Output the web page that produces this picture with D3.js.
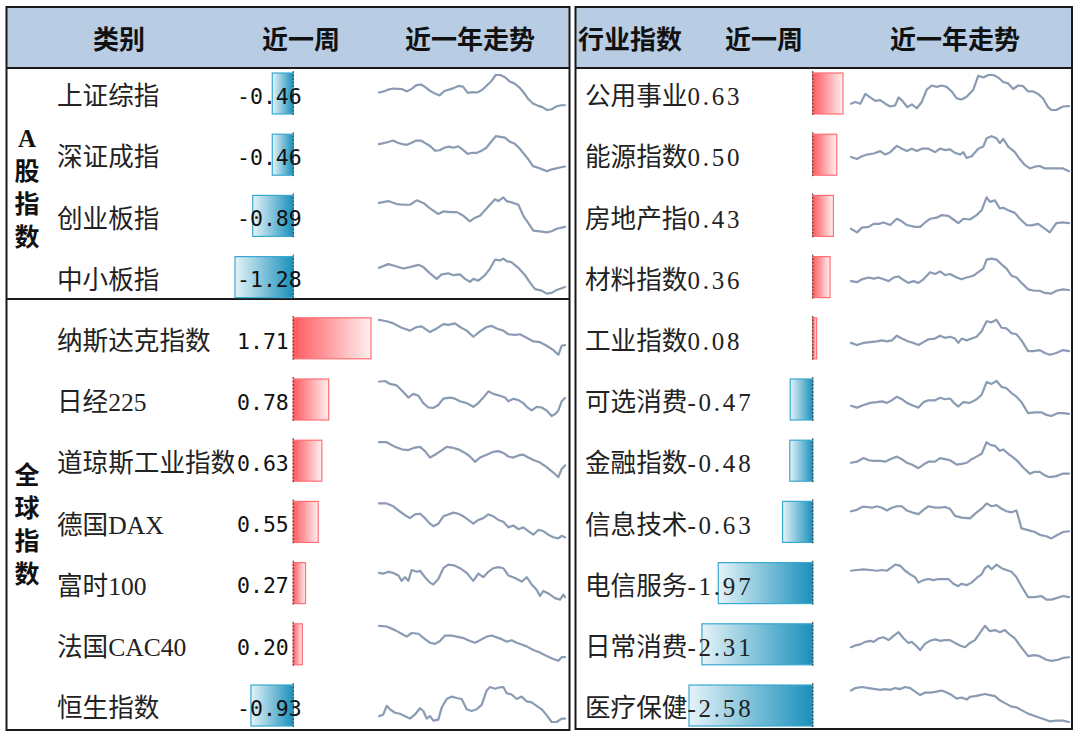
<!DOCTYPE html>
<html><head><meta charset="utf-8">
<script src="https://cdn.jsdelivr.net/npm/d3@7"></script>
<style>html,body{margin:0;padding:0;background:#fff;} svg{display:block}</style>
</head><body><svg id="c" width="1080" height="737"></svg>
<script>
// ---------- data ----------
const headersLeft = ["类别", "近一周", "近一年走势"];
const headersRight = ["行业指数", "近一周", "近一年走势"];
const groupNames = ["A股指数", "全球指数"];
const groupSizes = [4, 7];
const leftNames = ["上证综指", "深证成指", "创业板指", "中小板指", "纳斯达克指数", "日经225", "道琼斯工业指数", "德国DAX", "富时100", "法国CAC40", "恒生指数"];
const leftWeek = [-0.46, -0.46, -0.89, -1.28, 1.71, 0.78, 0.63, 0.55, 0.27, 0.20, -0.93];
const rightNames = ["公用事业", "能源指数", "房地产指", "材料指数", "工业指数", "可选消费", "金融指数", "信息技术", "电信服务", "日常消费", "医疗保健"];
const rightWeek = [0.63, 0.50, 0.43, 0.36, 0.08, -0.47, -0.48, -0.63, -1.97, -2.31, -2.58];

// one-year trend series: [time index, level]
const leftTrend = [
  [[0,50],[14,53],[28,58],[42,61],[56,60],[70,59],[84,53],[98,60],[112,70],[126,72],[140,64],[154,54],[168,47],[182,42],[196,54],[210,58],[224,62],[238,68],[252,66],[266,49],[280,51],[294,50],[308,56],[322,68],[336,80],[350,98],[364,98],[378,92],[392,80],[406,75],[420,65],[434,50],[448,32],[462,20],[476,14],[490,10],[504,2],[518,4],[532,12],[546,15],[558,15]],
  [[0,82],[14,85],[28,88],[42,92],[56,86],[70,82],[84,80],[98,86],[112,92],[126,92],[140,84],[154,76],[168,64],[182,65],[196,72],[210,75],[224,72],[238,76],[252,66],[266,55],[280,58],[294,58],[308,64],[322,72],[336,88],[350,104],[364,102],[378,100],[392,89],[406,84],[420,72],[434,56],[448,40],[462,21],[476,17],[490,12],[504,7],[518,12],[532,15],[546,18],[558,20]],
  [[0,85],[28,90],[53,82],[73,80],[93,80],[113,92],[133,85],[153,70],[178,55],[193,62],[213,60],[233,60],[253,50],[273,35],[288,45],[303,50],[328,75],[348,95],[358,90],[373,100],[383,90],[403,85],[418,80],[433,50],[448,30],[463,10],[483,8],[503,5],[518,8],[533,15],[558,20]],
  [[0,80],[28,90],[48,85],[73,78],[93,82],[118,88],[133,82],[153,65],[173,50],[188,62],[208,65],[223,60],[243,62],[258,50],[273,42],[283,50],[298,45],[318,60],[333,78],[348,102],[363,100],[373,105],[383,98],[398,95],[418,80],[438,60],[453,40],[468,22],[488,18],[503,10],[518,12],[533,20],[558,28]],
  [[0,102],[23,98],[43,92],[68,80],[93,72],[113,82],[128,84],[153,68],[173,78],[193,90],[208,88],[228,92],[243,82],[263,72],[283,55],[303,70],[323,82],[338,85],[353,78],[373,72],[388,62],[408,60],[423,62],[443,52],[463,42],[483,40],[503,30],[523,18],[538,5],[548,30],[558,32]],
  [[0,108],[18,110],[33,102],[53,98],[73,80],[88,65],[103,75],[118,70],[133,50],[148,38],[163,37],[178,45],[193,62],[213,65],[228,62],[243,55],[263,50],[283,40],[298,50],[313,65],[328,82],[343,75],[363,70],[378,65],[388,55],[403,62],[418,58],[433,50],[443,40],[458,30],[473,40],[488,38],[503,30],[518,15],[528,20],[538,30],[548,55],[558,64]],
  [[0,105],[23,105],[48,92],[68,85],[88,83],[108,90],[123,92],[138,80],[153,62],[168,70],[188,82],[203,92],[218,90],[238,85],[258,75],[273,65],[288,50],[303,62],[323,70],[343,78],[358,80],[373,75],[388,65],[403,62],[418,68],[433,70],[448,62],[463,55],[483,48],[503,35],[523,20],[538,7],[548,30],[558,40]],
  [[0,105],[23,105],[43,97],[63,83],[78,73],[93,65],[108,75],[123,77],[138,65],[153,50],[163,43],[178,50],[193,70],[208,75],[223,80],[238,77],[253,70],[268,60],[283,50],[298,60],[313,65],[328,75],[343,70],[358,60],[373,55],[388,40],[403,45],[418,35],[433,40],[448,30],[463,20],[478,33],[493,30],[508,20],[523,13],[538,10],[548,17],[558,13]],
  [[0,82],[13,80],[28,85],[43,82],[58,75],[68,60],[78,70],[88,60],[98,90],[113,85],[123,88],[138,70],[153,55],[163,50],[178,65],[193,95],[208,105],[228,102],[243,95],[263,82],[283,60],[298,80],[313,70],[328,85],[343,95],[358,98],[373,95],[388,75],[408,68],[428,58],[443,70],[458,50],[473,35],[483,18],[493,32],[508,25],[528,12],[543,8],[553,22],[558,15]],
  [[0,107],[23,105],[48,95],[68,85],[83,77],[98,87],[118,85],[138,70],[153,60],[168,57],[183,65],[198,80],[218,80],[233,77],[253,73],[273,65],[288,60],[303,67],[323,77],[338,80],[353,75],[368,70],[383,63],[398,67],[413,60],[428,55],[443,50],[463,40],[483,33],[503,23],[523,15],[538,10],[548,20],[558,20]],
  [[0,25],[13,30],[23,55],[33,45],[48,35],[63,32],[78,25],[93,18],[108,30],[123,48],[133,40],[143,18],[153,25],[163,12],[178,15],[188,50],[203,75],[218,82],[233,78],[248,75],[263,45],[278,40],[293,45],[308,58],[323,100],[333,110],[348,105],[358,108],[373,110],[383,92],[398,88],[413,75],[428,82],[443,68],[458,65],[473,55],[488,45],[503,28],[518,8],[533,8],[548,18],[558,18]]
];
const rightTrend = [
  [[0,25],[13,30],[28,25],[43,53],[58,43],[73,33],[88,35],[103,25],[118,17],[133,20],[143,43],[153,35],[170,15],[183,23],[198,12],[213,30],[228,65],[243,77],[258,73],[273,77],[288,73],[303,60],[318,40],[333,37],[348,45],[368,65],[383,105],[398,100],[413,107],[428,107],[443,100],[458,87],[473,83],[488,67],[503,77],[518,75],[533,60],[548,60],[563,53],[578,40],[593,15],[603,7],[618,7],[638,17],[656,18]],
  [[0,48],[18,42],[33,50],[48,55],[68,58],[88,65],[103,55],[118,62],[138,80],[153,72],[168,65],[183,72],[198,65],[213,72],[233,72],[253,62],[268,72],[283,68],[298,70],[313,60],[328,55],[338,62],[348,45],[363,50],[383,72],[398,78],[408,102],[423,108],[438,102],[448,88],[458,100],[473,78],[493,62],[508,42],[523,25],[538,15],[553,20],[568,22],[583,15],[598,15],[618,15],[638,15],[656,7]],
  [[0,20],[18,10],[33,23],[53,25],[68,33],[83,33],[98,37],[118,30],[138,47],[153,40],[168,30],[193,25],[208,25],[223,37],[238,47],[258,50],[273,57],[293,55],[308,45],[323,35],[338,47],[358,45],[378,57],[393,70],[408,105],[418,93],[433,97],[448,75],[458,77],[473,70],[493,63],[508,47],[528,30],[543,29],[563,33],[583,20],[598,10],[618,35],[638,37],[656,35]],
  [[0,45],[18,42],[33,50],[53,55],[68,52],[83,55],[98,50],[113,45],[128,55],[143,58],[158,48],[173,40],[188,45],[203,40],[218,50],[238,70],[253,65],[268,72],[283,62],[298,65],[318,55],[333,50],[348,55],[368,60],[383,70],[398,80],[408,105],[423,108],[438,105],[453,92],[468,80],[483,60],[498,55],[513,40],[533,22],[553,18],[568,18],[583,12],[603,10],[618,18],[638,22],[656,20]],
  [[0,38],[18,32],[38,38],[58,40],[78,42],[93,45],[108,42],[123,45],[138,58],[153,50],[173,42],[188,38],[203,32],[218,40],[233,48],[253,50],[268,58],[283,52],[298,55],[313,50],[323,38],[333,50],[348,45],[363,50],[378,55],[393,70],[408,98],[423,95],[438,102],[453,80],[468,78],[483,65],[498,62],[513,45],[533,15],[548,15],[568,18],[583,10],[598,5],[618,10],[638,18],[656,15]],
  [[0,35],[18,30],[38,37],[58,43],[78,45],[93,47],[108,43],[123,50],[138,60],[153,53],[168,43],[188,35],[203,30],[218,45],[233,50],[253,50],[268,57],[283,53],[298,55],[313,40],[323,33],[338,45],[358,43],[378,53],[393,65],[408,100],[423,95],[438,103],[453,87],[468,83],[483,70],[498,60],[513,45],[533,15],[553,17],[573,17],[588,10],[603,7],[623,15],[638,15],[656,13]],
  [[0,45],[18,48],[38,58],[53,52],[68,50],[88,50],[103,48],[118,55],[138,62],[153,55],[168,45],[183,40],[203,30],[218,40],[233,48],[253,48],[268,58],[283,55],[298,52],[318,40],[333,42],[348,45],[363,55],[378,62],[393,70],[408,102],[418,95],[433,92],[448,78],[458,82],[473,70],[488,60],[503,48],[518,32],[538,15],[553,20],[568,20],[583,10],[598,5],[618,8],[638,15],[656,15]],
  [[0,83],[18,87],[33,95],[48,95],[63,93],[78,97],[93,93],[108,85],[123,93],[138,97],[153,97],[168,85],[183,80],[203,75],[218,87],[233,97],[253,93],[268,93],[283,95],[298,90],[313,70],[333,65],[358,63],[378,80],[393,90],[408,105],[423,97],[438,100],[453,90],[468,83],[483,80],[498,85],[513,35],[533,30],[553,25],[568,17],[588,13],[603,7],[618,15],[638,25],[656,27]],
  [[0,88],[18,90],[38,92],[58,90],[78,88],[93,90],[108,88],[123,98],[133,105],[148,102],[163,88],[178,78],[193,70],[203,55],[218,62],[233,65],[248,62],[263,65],[278,65],[293,65],[308,52],[323,45],[333,52],[348,48],[363,55],[378,68],[393,78],[403,95],[413,102],[423,92],[438,105],[453,95],[468,90],[483,85],[498,70],[513,45],[533,15],[553,15],[573,18],[588,8],[603,8],[618,12],[638,18],[656,15]],
  [[0,45],[13,50],[28,53],[43,60],[58,63],[68,60],[83,70],[98,73],[113,65],[128,77],[143,87],[158,70],[173,57],[183,60],[198,47],[208,37],[223,55],[238,63],[253,67],[268,63],[283,65],[298,65],[313,57],[328,50],[343,45],[358,57],[373,65],[388,85],[403,105],[418,90],[433,93],[448,87],[463,93],[478,80],[493,70],[508,50],[533,20],[553,23],[568,20],[588,10],[603,7],[623,10],[638,15],[656,17]],
  [[0,98],[13,105],[33,108],[53,105],[73,102],[88,100],[103,102],[118,100],[133,105],[148,102],[163,108],[178,105],[193,95],[208,85],[223,92],[238,92],[258,95],[273,98],[288,92],[303,85],[318,75],[333,78],[348,72],[358,80],[373,82],[388,85],[403,88],[418,85],[433,82],[448,70],[463,62],[483,52],[498,50],[513,42],[533,32],[553,25],[568,20],[583,15],[598,10],[618,12],[638,12],[656,8]]
];

// ---------- layout ----------
const svg = d3.select("#c");
const font = '"Noto Sans CJK SC", sans-serif';
const rowY = d3.scalePoint().domain(d3.range(11)).range([96, 708]);

const defs = svg.append("defs");
const gPos = defs.append("linearGradient").attr("id", "gPos");
gPos.append("stop").attr("offset", "0").attr("stop-color", "#ff5a60");
gPos.append("stop").attr("offset", "1").attr("stop-color", "#fff0f0");
const gNeg = defs.append("linearGradient").attr("id", "gNeg");
gNeg.append("stop").attr("offset", "0").attr("stop-color", "#e4f3f8");
gNeg.append("stop").attr("offset", "1").attr("stop-color", "#1a90bb");
defs.append("clipPath").attr("id", "clipLbl").append("rect")
  .attr("x", 45).attr("y", 60).attr("width", 189).attr("height", 680);

// panels frames & header
const panels = [
  {x0: 6.5, x1: 569.5, bottom: 730, heads: headersLeft, hx: [93, 262, 405]},
  {x0: 575.5, x1: 1072, bottom: 729, heads: headersRight, hx: [578, 725, 890]}
];
panels.forEach(p => {
  svg.append("rect").attr("x", p.x0).attr("y", 7).attr("width", p.x1 - p.x0).attr("height", 61)
    .attr("fill", "#b8cce4");
  svg.append("g").selectAll("text").data(p.heads).join("text")
    .attr("x", (d, i) => p.hx[i]).attr("y", 40).attr("dy", "0.36em")
    .attr("font-family", font).attr("font-size", 26).attr("font-weight", 600).attr("fill", "#111")
    .text(d => d);
  svg.append("line").attr("x1", p.x0).attr("x2", p.x1).attr("y1", 68).attr("y2", 68)
    .attr("stroke", "#1a1a1a").attr("stroke-width", 2);
  svg.append("rect").attr("x", p.x0).attr("y", 7).attr("width", p.x1 - p.x0).attr("height", p.bottom - 7)
    .attr("fill", "none").attr("stroke", "#1a1a1a").attr("stroke-width", 2);
});
// group divider
svg.append("line").attr("x1", 6.5).attr("x2", 569.5).attr("y1", 299).attr("y2", 299)
  .attr("stroke", "#1a1a1a").attr("stroke-width", 2);

// group vertical titles
let start = 0;
groupNames.forEach((g, gi) => {
  const idx = d3.range(start, start + groupSizes[gi]);
  const cy = d3.mean(idx, i => rowY(i));
  const chars = Array.from(g);
  svg.append("g").selectAll("text").data(chars).join("text")
    .attr("x", 27).attr("y", (d, k) => cy + (k - (chars.length - 1) / 2) * 33).attr("dy", "0.36em")
    .attr("text-anchor", "middle").attr("font-family", '"Liberation Serif", "Noto Sans CJK SC"')
    .attr("font-size", 25).attr("font-weight", 700).attr("fill", "#111").text(d => d);
  start += groupSizes[gi];
});

// scales for bars
const xL = d3.scaleLinear().domain(d3.extent(leftWeek)).range([235, 371]);
const xR = d3.scaleLinear().domain(d3.extent(rightWeek)).range([689, 843]);

function drawBars(vals, x) {
  const g = svg.append("g");
  g.selectAll("rect").data(vals).join("rect")
    .attr("x", d => Math.min(x(d), x(0))).attr("width", d => Math.abs(x(d) - x(0)))
    .attr("y", (d, i) => rowY(i) - 23).attr("height", 41)
    .attr("fill", d => d >= 0 ? "url(#gPos)" : "url(#gNeg)")
    .attr("stroke", d => d >= 0 ? "#ff6f74" : "#3aa8d0").attr("stroke-width", 1.2);
  g.selectAll("line").data(vals).join("line")
    .attr("x1", x(0)).attr("x2", x(0))
    .attr("y1", (d, i) => rowY(i) - 25).attr("y2", (d, i) => rowY(i) + 20)
    .attr("stroke", "#333").attr("stroke-width", 1).attr("stroke-dasharray", "2,1.5");
}
drawBars(leftWeek, xL);
drawBars(rightWeek, xR);

// left labels and values
svg.append("g").attr("clip-path", "url(#clipLbl)").selectAll("text").data(leftNames).join("text")
  .attr("x", 57).attr("y", (d, i) => rowY(i)).attr("dy", "0.36em")
  .attr("font-family", '"Liberation Serif", "Noto Sans CJK SC"').attr("font-size", 25.6)
  .attr("fill", "#222").text(d => d);
svg.append("g").selectAll("text").data(leftWeek).join("text")
  .attr("x", 237).attr("y", (d, i) => rowY(i)).attr("dy", "0.36em")
  .attr("font-family", '"DejaVu Sans Mono", monospace').attr("font-size", 21.5)
  .attr("fill", "#111").text(d => d.toFixed(2));

// right labels with values
const rt = svg.append("g").selectAll("text").data(rightNames).join("text")
  .attr("x", 585).attr("y", (d, i) => rowY(i)).attr("dy", "0.36em")
  .attr("font-family", '"Liberation Serif", "Noto Sans CJK SC"').attr("font-size", 25.6).attr("fill", "#222");
rt.append("tspan").text(d => d);
rt.append("tspan").attr("letter-spacing", 2.8).attr("font-size", 25)
  .text((d, i) => rightWeek[i].toFixed(2));

// sparklines
function drawTrend(series, xr) {
  const g = svg.append("g");
  series.forEach((s, i) => {
    const sx = d3.scaleLinear().domain(d3.extent(s, d => d[0])).range(xr);
    const c = rowY(i);
    const sy = d3.scaleLinear().domain(d3.extent(s, d => d[1])).range([c + 14, c - 21]);
    g.append("path").datum(s)
      .attr("d", d3.line().x(d => sx(d[0])).y(d => sy(d[1])))
      .attr("fill", "none").attr("stroke", "#8a9bb3").attr("stroke-width", 2.2)
      .attr("stroke-linejoin", "round").attr("stroke-linecap", "round");
  });
}
drawTrend(leftTrend, [379, 565]);
drawTrend(rightTrend, [851, 1069]);
</script>
</body></html>
